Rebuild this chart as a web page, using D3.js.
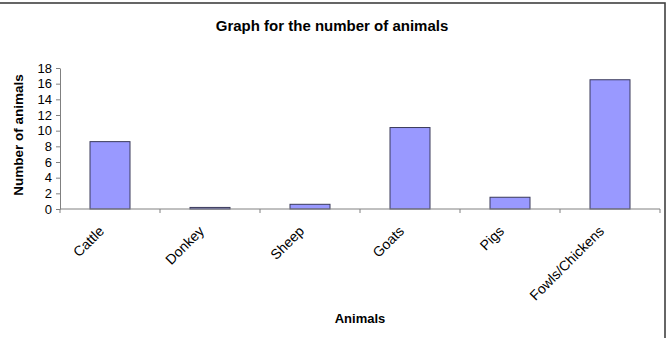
<!DOCTYPE html>
<html>
<head>
<meta charset="utf-8">
<script src="https://cdn.jsdelivr.net/npm/d3@7"></script>
<style>
  body { margin: 0; background: #fff; }
  svg { display: block; font-family: "Liberation Sans", Arial, sans-serif; }
</style>
</head>
<body>
<div id="chart"></div>
<script>
// Dane
const categories = ["Cattle", "Donkey", "Sheep", "Goats", "Pigs", "Fowls/Chickens"];
const counts = [8.6, 0.2, 0.6, 10.4, 1.5, 16.5];
const yTicks = [0, 2, 4, 6, 8, 10, 12, 14, 16, 18];

const W = 666, H = 338;
const margin = { top: 68, left: 60 };
const width = 660 - margin.left;
const height = 209 - margin.top;

const svg = d3.select("#chart")
  .append("svg")
  .attr("width", W)
  .attr("height", H);

// Ramka
svg.append("rect")
  .attr("x", -2)
  .attr("y", 3)
  .attr("width", 667)
  .attr("height", 345)
  .attr("fill", "none")
  .attr("stroke", "#404040")
  .attr("stroke-width", 1.6);

const g = svg.append("g")
  .attr("transform", `translate(${margin.left},${margin.top})`);

const x = d3.scaleBand()
  .domain(categories)
  .range([0, width])
  .paddingInner(0.6)
  .paddingOuter(0.3);

const y = d3.scaleLinear()
  .domain([0, 18])
  .range([height, 0]);

// Słupki
g.selectAll("rect.bar")
  .data(categories)
  .join("rect")
  .attr("class", "bar")
  .attr("x", d => x(d))
  .attr("width", x.bandwidth())
  .attr("y", (d, i) => y(counts[i]))
  .attr("height", (d, i) => height - y(counts[i]))
  .attr("fill", "#9999ff")
  .attr("stroke", "#3a3a5a")
  .attr("stroke-width", 1);

// Oś y
const yAxis = g.append("g")
  .call(d3.axisLeft(y).tickValues(yTicks).tickSize(4).tickSizeOuter(0));
yAxis.select(".domain").attr("stroke", "#808080");
yAxis.selectAll(".tick line").attr("stroke", "#808080");
yAxis.selectAll(".tick text")
  .attr("x", -8)
  .attr("fill", "#000")
  .style("font-size", "13px")
  .style("font-family", "Liberation Sans, Arial, sans-serif");

// Oś x
const bandW = width / categories.length;
const xAxis = g.append("g").attr("transform", `translate(0,${height})`);
xAxis.append("line")
  .attr("x1", 0).attr("x2", width)
  .attr("stroke", "#808080");
xAxis.selectAll("line.tick")
  .data(d3.range(categories.length + 1))
  .join("line")
  .attr("class", "tick")
  .attr("x1", d => d * bandW)
  .attr("x2", d => d * bandW)
  .attr("y1", 0).attr("y2", 4)
  .attr("stroke", "#808080");

xAxis.selectAll("text.cat")
  .data(categories)
  .join("text")
  .attr("class", "cat")
  .attr("transform", d => `translate(${x(d) + x.bandwidth() / 2 - 12},${16}) rotate(-45)`)
  .attr("text-anchor", "end")
  .attr("dy", "0.7em")
  .style("font-size", "14px")
  .text(d => d);

// Tytuł
svg.append("text")
  .attr("x", 332)
  .attr("y", 31)
  .attr("text-anchor", "middle")
  .style("font-size", "15px")
  .style("font-weight", "bold")
  .text("Graph for the number of animals");

// Etykiety osi
svg.append("text")
  .attr("x", 360)
  .attr("y", 323)
  .attr("text-anchor", "middle")
  .style("font-size", "13px")
  .style("font-weight", "bold")
  .text("Animals");

svg.append("text")
  .attr("transform", "translate(23,135) rotate(-90)")
  .attr("text-anchor", "middle")
  .style("font-size", "13.5px")
  .style("font-weight", "bold")
  .text("Number of animals");
</script>
</body>
</html>
